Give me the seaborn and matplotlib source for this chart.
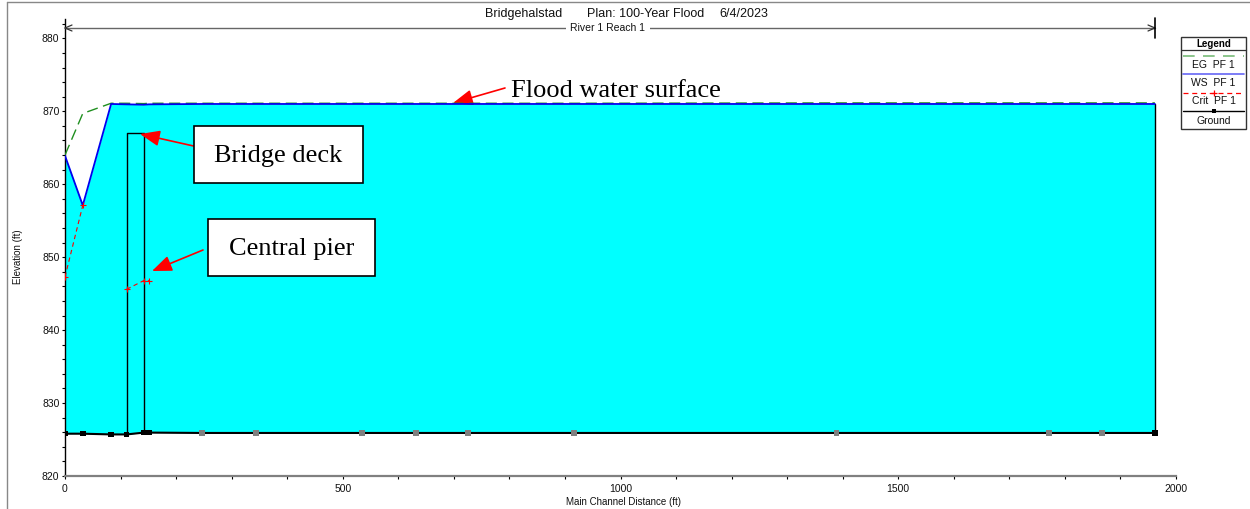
import numpy as np
import pandas as pd
import matplotlib
matplotlib.use("Agg")
import matplotlib.pyplot as plt
import seaborn as sns
from matplotlib.lines import Line2D
from matplotlib.patches import Rectangle
from matplotlib.ticker import MultipleLocator

# ---------------- data ----------------
stations = [0, 32, 83, 111, 142, 151, 247, 344, 535, 632, 725, 916, 1389, 1771, 1867, 1962]
ground = [825.8, 825.8, 825.7, 825.7, 825.95, 825.95, 825.9, 825.9, 825.9, 825.9,
          825.9, 825.9, 825.9, 825.9, 825.9, 825.9]
interpolated = [False, False, False, False, False, False, True, True, True, True,
                True, True, True, True, True, False]
ws = [863.9, 857.1, 871.0, 870.95, 870.9, 870.95, 871.0, 871.0, 871.0, 871.0,
      871.0, 871.0, 871.0, 871.0, 871.0, 871.0]
eg = [864.0, 869.7, 871.1, 871.1, 871.05, 871.1, 871.1, 871.1, 871.1, 871.1,
      871.1, 871.1, 871.15, 871.15, 871.15, 871.15]
crit = [847.3, 857.1, np.nan, 845.6, 846.8, 846.8, np.nan, np.nan, np.nan, np.nan,
        np.nan, np.nan, np.nan, np.nan, np.nan, np.nan]
bridge_stations = [111, 142]
bridge_ground = [825.7, 825.95]
bridge_deck = 867.0

title_parts = ["Bridgehalstad", "Plan: 100-Year Flood", "6/4/2023"]
reach_label = "River 1 Reach 1"
legend_labels = ["EG  PF 1", "WS  PF 1", "Crit  PF 1", "Ground"]
notes = ["Flood water surface", "Bridge deck", "Central pier"]

df = pd.DataFrame({"station": stations, "ground": ground, "ws": ws, "eg": eg,
                   "crit": crit, "interp": interpolated})

# ---------------- figure ----------------
W, H = 1250, 509
sns.set_style("ticks")
plt.rcParams["font.family"] = ["Liberation Sans", "DejaVu Sans"]
plt.rcParams["text.color"] = "black"

fig = plt.figure(figsize=(W / 100, H / 100), dpi=100)


def P(x, y):
    return (x / W, 1 - y / H)


ax = fig.add_axes([65 / W, 1 - 476 / H, 1111 / W, (476 - 19) / H])
ax.set_xlim(0, 2000)
ax.set_ylim(820, 882.65)

# water fill
ax.fill_between(df["station"], df["ground"], df["ws"], color="#00ffff", lw=0, zorder=1)
ax.plot([stations[-1], stations[-1]], [ground[-1], ws[-1]], color="black", lw=1, zorder=3)

# bridge deck outline
ax.plot([bridge_stations[0], bridge_stations[0], bridge_stations[1], bridge_stations[1]],
        [bridge_ground[0], bridge_deck, bridge_deck, bridge_ground[1]],
        color="black", lw=1, zorder=3)

# ground
sns.lineplot(data=df, x="station", y="ground", color="black", lw=1.5, sort=False,
             estimator=None, ax=ax, zorder=4)
sns.scatterplot(data=df[~df["interp"]], x="station", y="ground", marker="s", s=16,
                color="black", edgecolor="none", ax=ax, zorder=5)
sns.scatterplot(data=df[df["interp"]], x="station", y="ground", marker="s", s=16,
                color="#808080", edgecolor="none", ax=ax, zorder=5)

# EG
sns.lineplot(data=df, x="station", y="eg", color="#1f8f1f", lw=1.0, sort=False,
             estimator=None, ax=ax, zorder=4, linestyle=(0, (8, 4)))
# WS
sns.lineplot(data=df, x="station", y="ws", color="#0000ee", lw=1.3, sort=False,
             estimator=None, ax=ax, zorder=5)
# Crit
ax.plot(df["station"], df["crit"], color="red", lw=0.8, ls=(0, (4, 3)),
        marker="+", ms=4, mew=0.8, zorder=5)

# axes styling
for s in ["top", "right"]:
    ax.spines[s].set_visible(False)
ax.spines["left"].set_color("black")
ax.spines["left"].set_linewidth(1.0)
ax.spines["bottom"].set_color("#808080")
ax.spines["bottom"].set_linewidth(1.6)
ax.set_xlabel("")
ax.set_ylabel("")
ax.xaxis.set_major_locator(MultipleLocator(500))
ax.xaxis.set_minor_locator(MultipleLocator(100))
ax.yaxis.set_minor_locator(MultipleLocator(2))
ax.set_yticks([820, 830, 840, 850, 860, 870, 880])
ax.tick_params(axis="both", which="both", direction="out", length=2.5, width=0.8,
               color="black", labelsize=7.5, labelcolor="#111111")
ax.tick_params(axis="y", pad=1.5)
ax.tick_params(axis="x", pad=3)

fig.text(*P(18, 257), "Elevation (ft)", rotation=90, ha="center", va="center",
         size=7, color="#111111")
fig.text(*P(623, 502), "Main Channel Distance (ft)", ha="center", va="center",
         size=7, color="#111111")

# title
fig.text(*P(485, 17), title_parts[0], ha="left", va="baseline", size=9, color="#111111")
fig.text(*P(587, 17), title_parts[1], ha="left", va="baseline", size=9, color="#111111")
fig.text(*P(719, 17), title_parts[2], ha="left", va="baseline", size=9, color="#111111")

# reach arrow line
fig.add_artist(Line2D([65 / W, 1155 / W], [1 - 28 / H] * 2, color="#666666", lw=1))
fig.add_artist(Line2D([65 / W, 72 / W], [1 - 28 / H, 1 - 25 / H], color="#333333", lw=0.9))
fig.add_artist(Line2D([65 / W, 72 / W], [1 - 28 / H, 1 - 31 / H], color="#333333", lw=0.9))
fig.add_artist(Line2D([1155 / W, 1148 / W], [1 - 28 / H, 1 - 25 / H], color="#333333", lw=0.9))
fig.add_artist(Line2D([1155 / W, 1148 / W], [1 - 28 / H, 1 - 31 / H], color="#333333", lw=0.9))
fig.add_artist(Line2D([1155 / W, 1155 / W], [1 - 18 / H, 1 - 38 / H], color="black", lw=1.2))
fig.text(*P(608, 28), reach_label, ha="center", va="center", size=7.5, color="#111111",
         bbox=dict(boxstyle="square,pad=0.4", fc="white", ec="none"))

# outer frame
fig.add_artist(Line2D([7 / W, 7 / W], [1 - 2 / H, 0], color="#888888", lw=1))
fig.add_artist(Line2D([7 / W, 1], [1 - 2 / H, 1 - 2 / H], color="#888888", lw=1))

# annotations
serif = ["Liberation Serif", "DejaVu Serif"]
arrow_kw = dict(arrowstyle="-|>,head_length=12,head_width=4.8", color="red", lw=1.2,
                mutation_scale=1, shrinkA=0, shrinkB=0)

fig.text(*P(615.5, 97), notes[0], ha="center", va="baseline", size=19, family=serif,
         color="black")
ax.annotate("", xy=(453, H - 103), xycoords="figure pixels",
            xytext=(505, H - 88), textcoords="figure pixels", arrowprops=arrow_kw)

fig.add_artist(Rectangle(P(194, 183), (363 - 194) / W, (183 - 126) / H,
                         transform=fig.transFigure, fc="white", ec="black", lw=1.2))
fig.text(*P(278.5, 162), notes[1], ha="center", va="baseline", size=19, family=serif,
         color="black")
ax.annotate("", xy=(140, H - 134), xycoords="figure pixels",
            xytext=(198, H - 147), textcoords="figure pixels", arrowprops=arrow_kw)

fig.add_artist(Rectangle(P(208, 276), (375 - 208) / W, (276 - 219) / H,
                         transform=fig.transFigure, fc="white", ec="black", lw=1.2))
fig.text(*P(291.5, 255), notes[2], ha="center", va="baseline", size=19, family=serif,
         color="black")
ax.annotate("", xy=(152, H - 271), xycoords="figure pixels",
            xytext=(203, H - 250), textcoords="figure pixels", arrowprops=arrow_kw)

# legend box
lx0, lx1, ly0, ly1 = 1181, 1246, 37, 129
fig.add_artist(Rectangle(P(lx0, ly1), (lx1 - lx0) / W, (ly1 - ly0) / H,
                         transform=fig.transFigure, fc="white", ec="#333333", lw=1))
fig.text(*P((lx0 + lx1) / 2, 44), "Legend", ha="center", va="center", size=7,
         weight="bold", color="black")
fig.add_artist(Line2D([lx0 / W, lx1 / W], [1 - 50 / H] * 2, color="#333333", lw=0.9))
lxs = [(lx0 + 2) / W, (lx1 - 2) / W]
mid = (lx0 + lx1) / 2 / W
fig.add_artist(Line2D(lxs, [1 - 55.7 / H] * 2, color="#1f8f1f", lw=1.2, ls=(0, (7, 5)), alpha=0.6))
fig.add_artist(Line2D(lxs, [1 - 74.3 / H] * 2, color="#0000ee", lw=1.2, alpha=0.6))
fig.add_artist(Line2D(lxs, [1 - 92.7 / H] * 2, color="red", lw=0.9, ls=(0, (4, 3))))
fig.add_artist(Line2D([mid], [1 - 92.7 / H], color="red", marker="+", ms=5, mew=0.9))
fig.add_artist(Line2D(lxs, [1 - 111 / H] * 2, color="black", lw=1.0))
fig.add_artist(Line2D([mid], [1 - 111 / H], color="black", marker="s", ms=3.5, mew=0))
for lab, yy in zip(legend_labels, [65, 82.7, 101, 121]):
    fig.text(*P((lx0 + lx1) / 2, yy), lab, ha="center", va="center", size=7.5, color="#111111")

fig.savefig("out.png", dpi=100)
